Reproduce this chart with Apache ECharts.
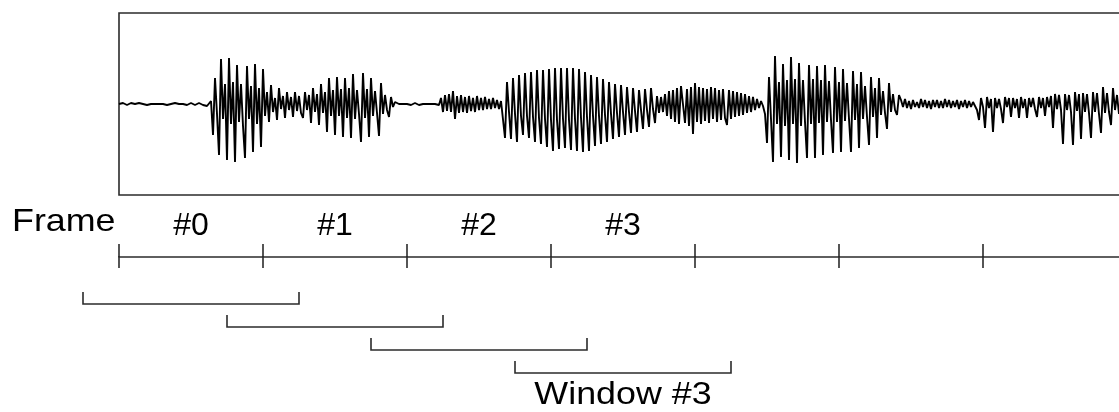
<!DOCTYPE html>
<html>
<head>
<meta charset="utf-8">
<script src="https://cdn.jsdelivr.net/npm/echarts@6/dist/echarts.min.js"></script>
<style>
  html, body { margin: 0; padding: 0; background: #fff; }
  #chart { width: 1119px; height: 412px; }
</style>
</head>
<body>
<div id="chart"></div>
<script>
// waveform amplitude, one value per 1/72 frame
var waveLeadIn = [0,0,1,0,-1, 0,1,0,0,-1, 1,0,0,1,-1, 0,0,1,0,-1, 0,1,0,0,-1, 1,0,0,1,-1, 0,1,0,0,-1, 0,1,0,-1,0, 1,0,-1,-1,-2];
var waveVoiced1 = [0,3,-31,26,-10,-51,45,-15,20,-56,46,-20,22,-58,39,-18,20,-22,-54,38,-15,18,-48,40,-20,16,-43,35,-12,12,-18,19];
var waveVoiced2 = [-8,6,-16,16,-5,8,-14,12,-6,7,-13,12,-7,8,-9,-14,12,-6,9,-19,16,-8,10,-21,20,-9,12,-28,26,-12,14,-31,27,-12,15,-33,26,-14,16,-34,30,-15,14,-10,-38,31,-14,15,-33,26,-12,13,-9,-32,21,-10,9,-6,-13,7,-3,2];
var waveGap = [1,0,-1,0,1, 0,0,-1,0,1, 0,-1,0,0,1, 0,-1,0,1,0, 0,-1];
var waveFric = [6,-8,9,-7,10,-8,13,-15,8,-9,9,-8,7,-9,8,-7,6,-8,8,-6,6,-6,7,-5,5,-5,6,-4,4,-5,3];
var waveVowel = [5,-34,22,-8,-35,26,-10,-38,29,-12,-31,31,-12,-34,32,-13,-38,34,-14,-40,34,-15,-43,35,-16,-47,36,-16,-45,36,-15,-44,36,-16,-46,36,-15,-47,35,-14,-48,32,-13,-47,29,-12,-42,27,-12,-40,25,-11,-38,22,-10,-35,20,-9,-33,19,-8,-31,17,-8,-29,16,-7,-28,14,-6,-25,15,-6,-23,16,-5,-19];
var waveNoise = [8,-9,7,-8,10,-12,13,-15,14,-18,16,-20,18,20,-19,15,-22,17,-30,21,-18,17,-20,16,-17,15,-19,17,-15,16,-18,14,-16,15,-14,-21,14,-15,13,-13,12,-12,11,-11,10,-9,8,-8,7,-6,5,-4,3,-2];
var waveVoiced3 = [-10,-39,27,-15,-58,48,-20,22,-53,40,-22,24,-56,47,-20,25,-59,41,-22,24,-18,-54,39,-20,25,-54,38,-19,24,-51,39,-18,23,-16,-49,37,-18,22,-48,35,-17,21,-15,-48,33,-16,20,-44,32,-15,18,-13,-41,27,-13,16,-34,26,-11,13,-9,-25,21,-8,10,-6,-11,9];
var waveQuiet = [4,-3,5,-4,3, -5,4,-3,2,-4, 5,-3,4,-4,3, -5,4,-3,4,-4, 3,-4,5,-3,4, -4,3,-3,4,-5, 3,-3,4,-4,3, -3,2,-2];
var waveTail = [-6,-16,6,-3,-24,7,-4,5,-28,6,-4,5,-5,-19,7,-3,6,-13,6,-4,5,-14,7,-4,5,-14,6,-3,6,-5,-13,7,-4,6,-12,7,-3,8,-24,10,-5,9,-6,-40,10,-6,9,-8,-41,12,-7,10,-35,11,-8,10,-9,-34,12,-8,11,-10,-29,17,-9,11,-8,-21,16,-6,9,-10,8,-14,10,-8];

var sampleStep = 1 / 72; // frames per sample

var frameLabels = ['#0', '#1', '#2', '#3', '', '', ''];
var frameCount = 7;

var windowStart = [-0.25, 0.75, 1.75, 2.75];
var windowEnd = [1.25, 2.25, 3.25, 4.25];
var windowLabels = ['', '', '', 'Window #3'];

var wave = [].concat(waveLeadIn, waveVoiced1, waveVoiced2, waveGap, waveFric,
    waveVowel, waveNoise, waveVoiced3, waveQuiet, waveTail);
var waveData = wave.map(function (v, i) { return [i * sampleStep, v]; });

var windowData = windowStart.map(function (s, i) {
    return [s, windowEnd[i], i, windowLabels[i]];
});

var FONT = '"Liberation Sans", Arial, Helvetica, sans-serif';
var INK = '#2b2b2b';

var myChart = echarts.init(document.getElementById('chart'), null, {renderer: 'canvas'});

myChart.setOption({
    animation: false,
    backgroundColor: '#fff',
    grid: [
        {left: 119, right: -8, top: 13, height: 182, outerBoundsMode: 'none', show: true, borderColor: INK, borderWidth: 1.6, backgroundColor: 'transparent'},
        {left: 119, right: -8, top: 256, height: 1, outerBoundsMode: 'none'},
        {left: 119, right: -8, top: 304, height: 69, outerBoundsMode: 'none'}
    ],
    xAxis: [
        {gridIndex: 0, type: 'value', min: 0, max: frameCount, show: false},
        {
            gridIndex: 1, type: 'category', data: frameLabels, position: 'top', boundaryGap: true,
            axisLine: {show: true, lineStyle: {color: INK, width: 1.6}},
            axisTick: {show: true, interval: 0, length: 13, lineStyle: {color: INK, width: 1.6}},
            axisLabel: {interval: 0, margin: 14, fontSize: 32, color: '#000', fontFamily: FONT}
        },
        {
            gridIndex: 1, type: 'category', data: frameLabels, position: 'top', boundaryGap: true,
            axisLine: {show: false},
            axisTick: {show: true, inside: true, interval: 0, length: 12, lineStyle: {color: INK, width: 1.6}},
            axisLabel: {show: false}
        },
        {gridIndex: 2, type: 'value', min: 0, max: frameCount, show: false}
    ],
    yAxis: [
        {gridIndex: 0, type: 'value', min: -91, max: 91, show: false},
        {gridIndex: 1, type: 'value', show: false},
        {gridIndex: 2, type: 'value', min: 0, max: 3, inverse: true, show: false}
    ],
    graphic: [{
        type: 'text', x: 12, y: 222, scaleX: 1.12,
        style: {text: 'Frame', font: '32px ' + FONT, fill: '#000', textVerticalAlign: 'middle'}
    }],
    series: [
        {
            type: 'line', xAxisIndex: 0, yAxisIndex: 0, data: waveData,
            showSymbol: false, symbol: 'none', clip: true,
            lineStyle: {color: '#000', width: 1.9}
        },
        {
            type: 'custom', xAxisIndex: 3, yAxisIndex: 2, data: windowData, clip: false,
            renderItem: function (params, api) {
                var p0 = api.coord([api.value(0), api.value(2)]);
                var p1 = api.coord([api.value(1), api.value(2)]);
                var label = windowLabels[params.dataIndex];
                var children = [{
                    type: 'polyline',
                    shape: {points: [[p0[0], p0[1] - 12], p0, p1, [p1[0], p1[1] - 12]]},
                    style: {stroke: INK, lineWidth: 1.6, fill: null}
                }];
                if (label) {
                    children.push({
                        type: 'text', x: (p0[0] + p1[0]) / 2, y: p0[1] + 22, scaleX: 1.12,
                        style: {text: label, font: '32px ' + FONT, fill: '#000', textAlign: 'center', textVerticalAlign: 'middle'}
                    });
                }
                return {type: 'group', children: children};
            }
        }
    ]
});
</script>
</body>
</html>
